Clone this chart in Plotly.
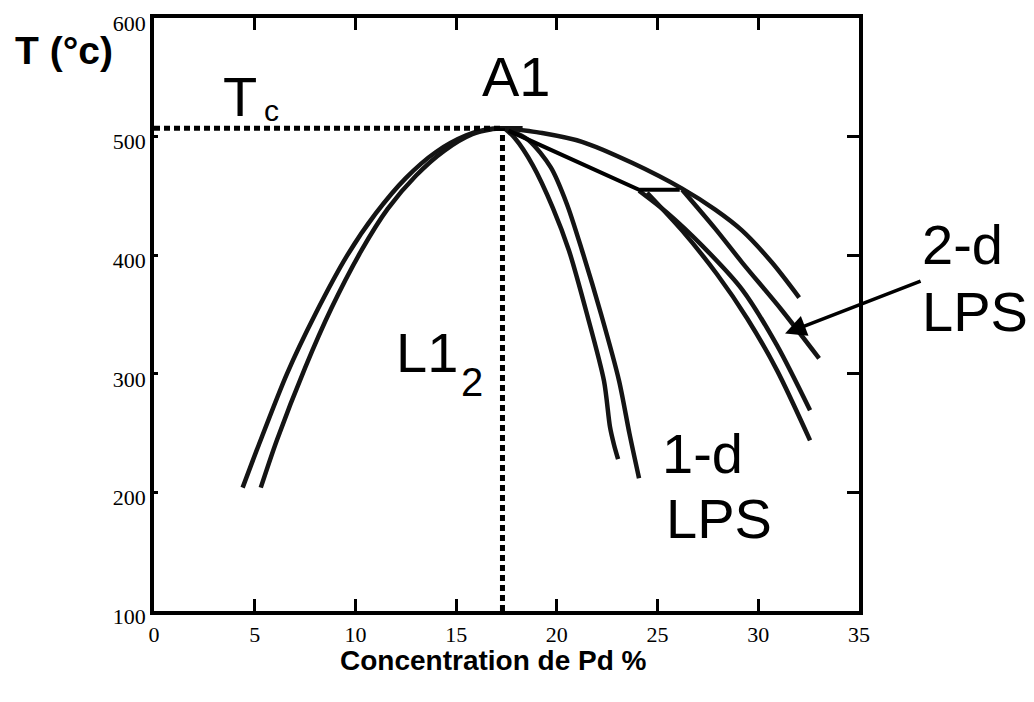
import plotly.graph_objects as go

# ---- data ----
x_ticks = [0, 5, 10, 15, 20, 25, 30, 35]
y_ticks = [100, 200, 300, 400, 500, 600]

x_crit = 17.3
t_crit = 507

left_outer_x = [4.4, 5.2, 6.6, 8.0, 9.6, 11.0, 12.5, 14.0, 15.5, 16.5, 17.3, 18.3]
left_outer_T = [204, 240, 300, 350, 400, 435, 465, 487, 501, 506, 507, 507]

left_inner_x = [5.3, 6.1, 7.5, 8.8, 10.3, 11.6, 13.0, 14.4, 15.8, 16.7, 17.4]
left_inner_T = [204, 244, 305, 355, 404, 439, 467, 488, 502, 506, 507]

steep_a_x = [17.4, 17.9, 18.8, 19.8, 20.6, 21.5, 22.34, 22.64, 22.84, 23.04]
steep_a_T = [507, 499, 476, 440, 404, 350, 294, 255, 240, 228]

steep_b_x = [17.6, 18.6, 19.7, 20.5, 21.25, 22.2, 23.09, 23.6, 24.08]
steep_b_T = [506, 497, 474, 443, 404, 350, 294, 250, 212]

broad_e_x = [17.5, 19.27, 21.25, 23.73, 26.22, 27.86, 29.2, 30.68, 32.03]
broad_e_T = [507, 503, 495.6, 477.9, 456.1, 438.4, 420.7, 393.8, 364.3]

broad_f_x = [26.22, 27.86, 29.2, 31.18, 33.02]
broad_f_T = [455.2, 422.4, 393.8, 353.4, 313.0]

broad_g_x = [24.08, 25.47, 27.21, 29.2, 30.93, 32.57]
broad_g_T = [454.4, 435.9, 408.1, 371.0, 323.9, 269.2]

broad_h_x = [24.48, 26.22, 27.96, 29.45, 30.93, 32.57]
broad_h_T = [452.7, 420.7, 383.7, 346.6, 302.9, 243.9]

tie_x = [17.6, 24.08, 26.1]
tie_T = [505, 455.2, 455.2]

ink = "#141414"
fig = go.Figure()

for xs, ts in [(left_outer_x, left_outer_T), (left_inner_x, left_inner_T),
               (steep_a_x, steep_a_T), (steep_b_x, steep_b_T),
               (broad_e_x, broad_e_T), (broad_f_x, broad_f_T),
               (broad_g_x, broad_g_T), (broad_h_x, broad_h_T)]:
    fig.add_trace(go.Scatter(x=xs, y=ts, mode="lines",
                             line=dict(color=ink, width=4.5, shape="spline", smoothing=0.8),
                             showlegend=False, hoverinfo="skip"))

fig.add_trace(go.Scatter(x=tie_x, y=tie_T, mode="lines", line=dict(color="black", width=4),
                         showlegend=False, hoverinfo="skip"))

# dotted guide lines
fig.add_trace(go.Scatter(x=[0, x_crit], y=[t_crit, t_crit], mode="lines",
                         line=dict(color="black", width=5, dash="6px,4px"), showlegend=False, hoverinfo="skip"))
fig.add_trace(go.Scatter(x=[x_crit, x_crit], y=[100, t_crit], mode="lines",
                         line=dict(color="black", width=5, dash="6px,4px"), showlegend=False, hoverinfo="skip"))
# dummy trace for right axis
fig.add_trace(go.Scatter(x=[None], y=[None], yaxis="y2", showlegend=False, hoverinfo="skip"))

sans = "Liberation Sans, Arial, sans-serif"
serif = "Liberation Serif, Times New Roman, serif"
big = 56

anns = [
    dict(text="T", x=4.27, y=534, size=big),
    dict(text="c", x=5.81, y=522, size=30),
    dict(text="A1", x=18.0, y=551, size=big),
    dict(text="L1", x=13.56, y=318, size=big),
    dict(text="2", x=15.79, y=293, size=40),
    dict(text="1-d", x=25.1, y=233, xanchor="left", size=big),
    dict(text="LPS", x=25.3, y=178, xanchor="left", size=big),
]
annotations = []
for a in anns:
    annotations.append(dict(xref="x", yref="y", showarrow=False, yanchor="middle",
                            xanchor=a.get("xanchor", "center"), text=a["text"], x=a["x"], y=a["y"],
                            font=dict(family=sans, color="black", size=a["size"])))

annotations += [
    dict(xref="paper", yref="paper", x=1.087, y=0.618, text="2-d", showarrow=False, xanchor="left",
         yanchor="middle", font=dict(family=sans, size=big, color="black")),
    dict(xref="paper", yref="paper", x=1.087, y=0.505, text="LPS", showarrow=False, xanchor="left",
         yanchor="middle", font=dict(family=sans, size=big, color="black")),
    dict(xref="paper", yref="paper", x=-0.128, y=0.945, text="<b>T (°c)</b>", showarrow=False,
         xanchor="center", yanchor="middle", font=dict(family=sans, size=39, color="black")),
    dict(xref="paper", yref="paper", x=0.482, y=-0.083, text="<b>Concentration de Pd %</b>", showarrow=False,
         xanchor="center", yanchor="middle", font=dict(family=sans, size=28, color="black")),
    dict(xref="x", yref="y", x=31.33, y=334, ax=137, ay=-53, text="", showarrow=True,
         arrowhead=2, arrowsize=1.2, arrowwidth=3.5, arrowcolor="black"),
]

fig.update_layout(
    width=1034, height=702,
    margin=dict(l=146, r=183, t=10, b=99, autoexpand=False),
    paper_bgcolor="white", plot_bgcolor="white",
    xaxis=dict(range=[0, 35], tickvals=x_ticks, ticktext=[str(v) for v in x_ticks],
               showgrid=False, zeroline=False, showline=True, linecolor="black", linewidth=3.5,
               mirror="ticks", ticks="inside", ticklen=12, tickwidth=3, tickcolor="black",
               tickfont=dict(family=serif, size=22, color="black"), ticklabelstandoff=1,
               ticklabeloverflow="allow", automargin=False),
    yaxis=dict(range=[100, 600], tickvals=y_ticks, ticktext=[str(v) for v in y_ticks],
               showgrid=False, zeroline=False, showline=True, linecolor="black", linewidth=3.5,
               mirror=True, ticks="inside", ticklen=4, tickwidth=3, tickcolor="black",
               tickfont=dict(family=serif, size=22, color="black"), ticklabeloverflow="allow",
               ticklabelshift=5, automargin=False),
    yaxis2=dict(range=[100, 600], overlaying="y", side="right", tickvals=y_ticks, showticklabels=False,
                showgrid=False, zeroline=False, showline=False, ticks="inside", ticklen=12, tickwidth=3,
                tickcolor="black", automargin=False),
    annotations=annotations,
)

fig.write_html("out.html")
